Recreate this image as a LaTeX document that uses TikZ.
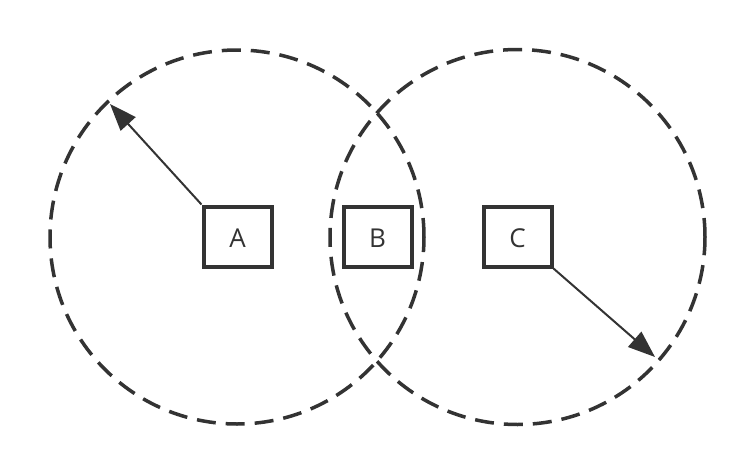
\documentclass[tikz,border=0pt]{standalone}
\usepackage{fontspec}
\setmainfont{Open Sans}
\usepackage{tikz}
\usetikzlibrary{positioning, calc}
\usetikzlibrary{arrows.meta}
\definecolor{dunkel}{HTML}{333333}
\tikzset{
  kreis/.style={draw=dunkel, line width=3.5pt, dash pattern=on 19pt off 10pt},
  kasten/.style={draw=dunkel, line width=4pt, minimum width=68pt, minimum height=60pt, inner sep=0pt, text=dunkel, font=\fontsize{26}{30}\selectfont, text height=22.5pt, text depth=0pt},
  pfeil/.style={draw=dunkel, line width=2pt, -{Triangle[length=27pt,width=20pt]}}
}

\begin{document}
\begin{tikzpicture}[x=1pt,y=-1pt]
                \useasboundingbox (0,0) rectangle (756,474);
                \draw[kreis] (237,237) circle [radius=187pt];
                \draw[kreis] (517.5,237) circle [radius=187.5pt];
                \node[kasten] (A) at (237.5,236.5) {A};
                \node[kasten] (B) at (377.5,236.5) {B};
                \node[kasten] (C) at (517.5,236.5) {C};
                \coordinate (spitzeA) at (110,104);
                \coordinate (spitzeC) at (655,357);
                \draw[pfeil] (A.north west) -- (spitzeA);
                \draw[pfeil] (C.south east) -- (spitzeC);
            \end{tikzpicture}
\end{document}
